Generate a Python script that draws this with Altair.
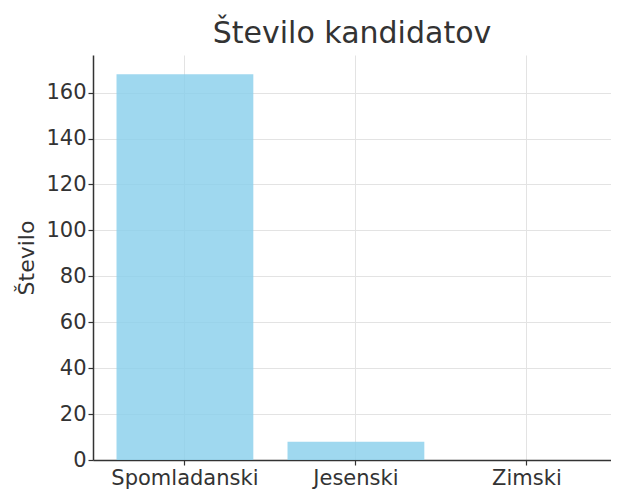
import altair as alt
import pandas as pd

categories = ["Spomladanski", "Jesenski", "Zimski"]
counts = [168, 8, 0]
y_ticks = [0, 20, 40, 60, 80, 100, 120, 140, 160]
y_max = 176.4

df = pd.DataFrame({"obdobje": categories, "stevilo": counts})

FONT = "DejaVu Sans"
TEXT = "#333333"
AXIS_DARK = "#333333"
GRID = "#e3e3e3"

common_axis = dict(
    labelFont=FONT, labelFontSize=21, labelColor=TEXT,
    titleFont=FONT, titleFontSize=22, titleFontWeight="normal", titleColor=TEXT,
    domainColor=AXIS_DARK, domainWidth=1.5,
    tickColor=AXIS_DARK, tickSize=5, tickWidth=1.2,
    labelPadding=2,
    grid=True, gridColor=GRID, gridWidth=1,
)

chart = alt.Chart(df).mark_bar(color="#87CEEB", opacity=0.8).encode(
    x=alt.X(
        "obdobje:N", sort=categories, title=None,
        scale=alt.Scale(paddingInner=0.2, paddingOuter=0.1146, align=0.6),
        axis=alt.Axis(labelAngle=0, bandPosition=0.5, **common_axis),
    ),
    y=alt.Y(
        "stevilo:Q",
        scale=alt.Scale(domain=[0, y_max], nice=False, zero=True),
        axis=alt.Axis(values=y_ticks, title="Število", titlePadding=7, **common_axis),
    ),
).properties(
    width=518,
    height=405,
    title=alt.TitleParams(
        "Število kandidatov", font=FONT, fontSize=30, fontWeight="normal",
        color=TEXT, anchor="middle", frame="group", baseline="alphabetic",
        offset=10, dy=28,
    ),
    autosize=alt.AutoSizeParams(type="none"),
    padding={"left": 85, "top": 47, "right": 0, "bottom": 31},
).configure_view(stroke=None)

chart.save("out.html", embed_options={"renderer": "svg", "actions": False})
